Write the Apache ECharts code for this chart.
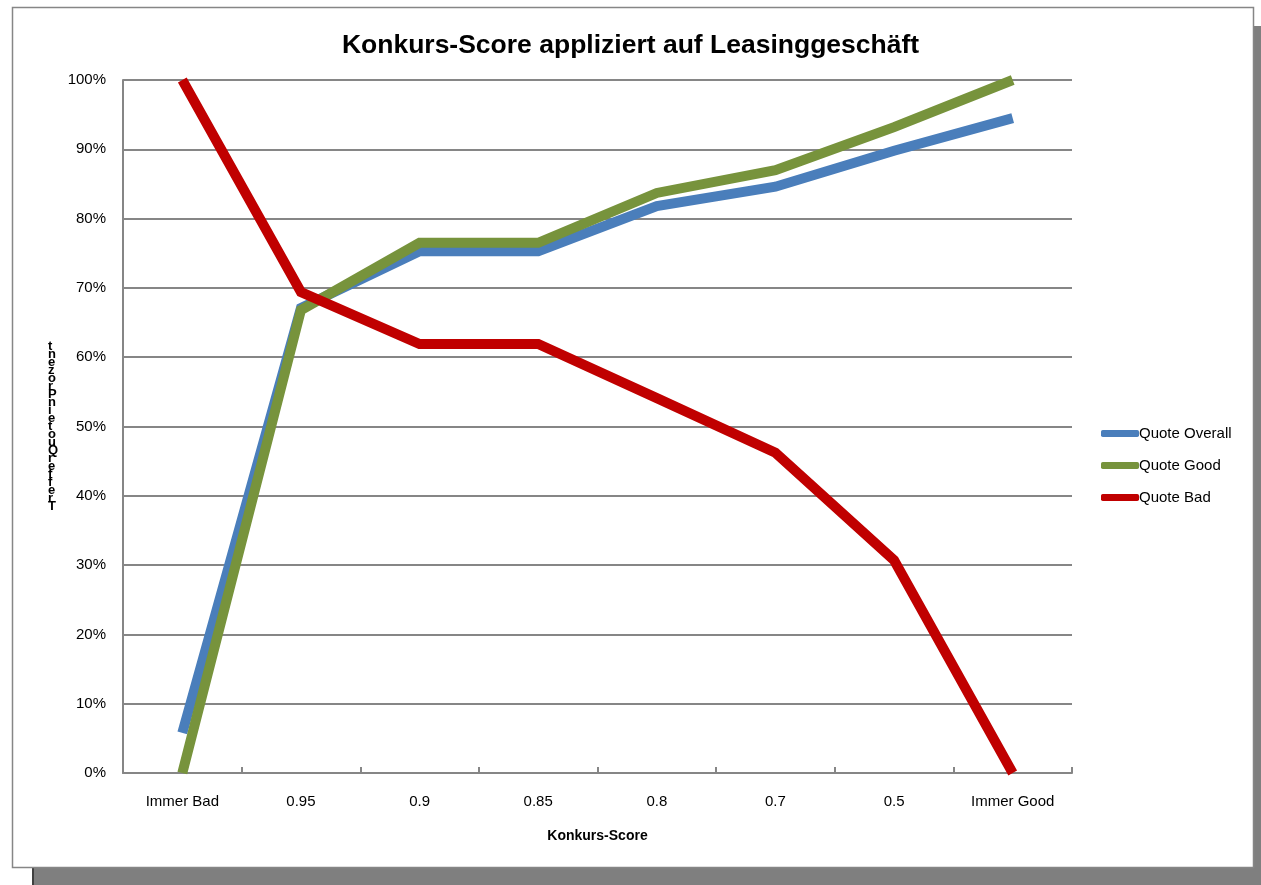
<!DOCTYPE html>
<html>
<head>
<meta charset="utf-8">
<script src="https://cdn.jsdelivr.net/npm/echarts@6/dist/echarts.min.js"></script>
<style>
  html, body { margin: 0; padding: 0; background: #fff; }
  #chart { width: 1261px; height: 885px; }
</style>
</head>
<body>
<div id="chart"></div>
<script>
// Daten
var categories = ['Immer Bad', '0.95', '0.9', '0.85', '0.8', '0.7', '0.5', 'Immer Good'];
var quoteOverall = [5.8, 67.1, 75.3, 75.3, 81.8, 84.6, 89.8, 94.5];
var quoteGood = [0, 66.8, 76.5, 76.5, 83.7, 87.0, 93.2, 100];
var quoteBad = [100, 69.4, 61.9, 61.9, 54.1, 46.2, 30.7, 0];
var yAxisTitle = 'TrefferQuoteinProzent';

var font = '"Liberation Sans", sans-serif';

var myChart = echarts.init(document.getElementById('chart'));

function lineSeries (name, color, data) {
  return {
    name: name,
    type: 'line',
    data: data,
    symbol: 'none',
    lineStyle: { width: 10, color: color, join: 'miter' },
    itemStyle: { color: color }
  };
}

myChart.setOption({
  animation: false,
  backgroundColor: '#fff',
  graphic: [
    // Schatten + Rahmen
    { type: 'rect', z: -10, silent: true, shape: { x: 1254, y: 26, width: 7, height: 859 }, style: { fill: '#7f7f7f' } },
    { type: 'rect', z: -10, silent: true, shape: { x: 32, y: 868, width: 1229, height: 17 }, style: { fill: '#7f7f7f' } },
    { type: 'rect', z: -9, silent: true, shape: { x: 32, y: 868, width: 2, height: 17 }, style: { fill: '#404040' } },
    { type: 'rect', z: -8, silent: true, shape: { x: 12.5, y: 7.5, width: 1241, height: 860 }, style: { fill: '#fff', stroke: '#868686', lineWidth: 1.5 } },
    {
      type: 'text',
      left: 48,
      top: 340,
      silent: true,
      style: {
        text: yAxisTitle.split('').reverse().join('\n'),
        font: 'bold 13px ' + font,
        lineHeight: 8,
        fill: '#000',
        align: 'center'
      }
    }
  ],
  title: {
    text: 'Konkurs-Score appliziert auf Leasinggeschäft',
    left: 'center',
    top: 27,
    textStyle: { fontFamily: font, fontWeight: 'bold', fontSize: 26.5, color: '#000' }
  },
  legend: {
    orient: 'vertical',
    left: 1096,
    top: 421,
    itemWidth: 38,
    itemHeight: 7,
    itemGap: 17,
    icon: 'roundRect',
    textStyle: { fontFamily: font, fontSize: 15, color: '#000', padding: [0, 0, 0, -5] },
    data: ['Quote Overall', 'Quote Good', 'Quote Bad']
  },
  grid: {
    left: 123,
    right: 189,
    top: 80,
    bottom: 112
  },
  xAxis: {
    type: 'category',
    data: categories,
    boundaryGap: true,
    name: 'Konkurs-Score',
    nameLocation: 'middle',
    nameGap: 56,
    nameTextStyle: { fontFamily: font, fontWeight: 'bold', fontSize: 14, color: '#000' },
    axisLine: { lineStyle: { color: '#868686', width: 2 } },
    axisTick: { show: true, inside: true, length: 6, lineStyle: { color: '#868686', width: 2 } },
    axisLabel: { fontFamily: font, fontSize: 15, color: '#000', margin: 21 }
  },
  yAxis: {
    type: 'value',
    min: 0,
    max: 100,
    interval: 10,
    axisLine: { show: true, lineStyle: { color: '#868686', width: 2 } },
    axisTick: { show: false },
    axisLabel: { fontFamily: font, fontSize: 15, color: '#000', margin: 17, formatter: '{value}%' },
    splitLine: { lineStyle: { color: '#868686', width: 2 } }
  },
  series: [
    lineSeries('Quote Overall', '#4a7ebb', quoteOverall),
    lineSeries('Quote Good', '#77933c', quoteGood),
    lineSeries('Quote Bad', '#c00000', quoteBad)
  ]
});
</script>
</body>
</html>
